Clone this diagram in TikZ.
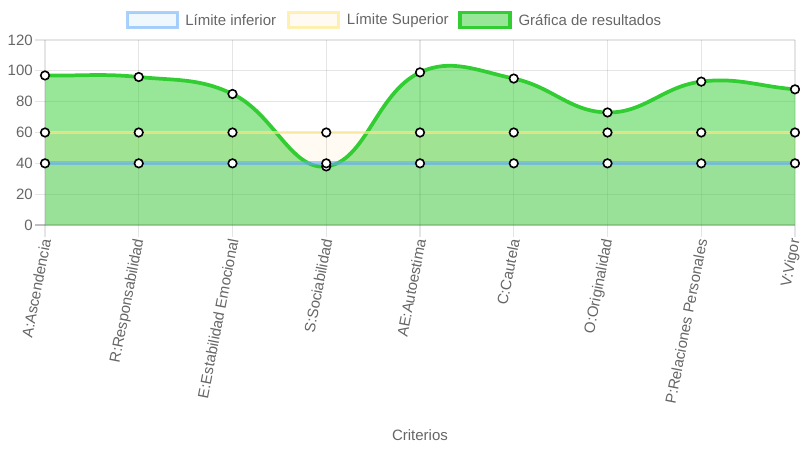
\documentclass[tikz,border=0pt]{standalone}
\usepackage{fontspec}
\setmainfont{Liberation Sans}
\begin{document}
\begin{tikzpicture}[x=0.75pt,y=-0.75pt,
  lbl/.style={text=txtgray,font=\fontsize{11.25}{13.5}\selectfont,inner sep=0pt},
  grid/.style={draw=black,draw opacity=0.1,line width=0.94pt},
  zeroline/.style={draw=black,draw opacity=0.25,line width=0.94pt},
  ptmark/.style={circle,draw=black,fill=white,line width=1.2pt,minimum size=6.4pt,inner sep=0pt},
  greenline/.style={draw=limeg,line width=2.8pt},
  yelline/.style={draw=yelL,draw opacity=0.7,line width=2.8pt},
  blueline/.style={draw=bluL,draw opacity=0.6,line width=2.8pt},
  xlab/.style={lbl,anchor=east,rotate=79}]
\definecolor{txtgray}{HTML}{666666}
\definecolor{limeg}{RGB}{50,205,50}
\definecolor{yel}{RGB}{255,206,86}
\definecolor{yelL}{RGB}{255,232,130}
\definecolor{blu}{RGB}{54,162,235}
\definecolor{bluL}{RGB}{100,170,250}
\useasboundingbox (0,0) rectangle (800,450);
% legend
\node[draw=bluL,draw opacity=0.55,fill=blu,fill opacity=0.08,line width=2.8pt,minimum width=37.5pt,minimum height=11.25pt,inner sep=0pt] (lb1) at (152.5,20) {};
\node[lbl,anchor=west] (lt1) at (185,20.5) {Límite inferior};
\node[draw=yelL,draw opacity=0.6,fill=yel,fill opacity=0.08,line width=2.8pt,minimum width=37.5pt,minimum height=11.25pt,inner sep=0pt] (lb2) at (313.5,20) {};
\node[lbl,anchor=west] (lt2) at (346.7,20.5) {Límite Superior};
\node[draw=limeg,fill=limeg,fill opacity=0.5,line width=2.8pt,minimum width=37.5pt,minimum height=11.25pt,inner sep=0pt] (lb3) at (485,20) {};
\node[lbl,anchor=west] (lt3) at (518.3,20.5) {Gráfica de resultados};
% grid
\foreach \v in {20,40,...,120} {
  \draw[grid] (35,{225-1.54167*\v}) -- (795,{225-1.54167*\v});
  \node[lbl,anchor=east] (yl\v) at (33,{225-1.54167*\v}) {\v};
}
\node[lbl,anchor=east] (yl0) at (33,225) {0};
\foreach \i in {0,...,8} {
  \draw[grid] ({45+93.75*\i},40) -- ({45+93.75*\i},237);
}
\draw[zeroline] (35,225) -- (795,225);
% data coordinates
\coordinate (g0) at (45,75.46);
\coordinate (g1) at (138.75,77.0);
\coordinate (g2) at (232.5,93.96);
\coordinate (g3) at (326.25,166.42);
\coordinate (g4) at (420,72.37);
\coordinate (g5) at (513.75,78.54);
\coordinate (g6) at (607.5,112.46);
\coordinate (g7) at (701.25,81.62);
\coordinate (g8) at (795,89.33);
\coordinate (b0) at (45,225);
\coordinate (b8) at (795,225);
\coordinate (y0) at (45,132.5);
\coordinate (y8) at (795,132.5);
\coordinate (l0) at (45,163.33);
\coordinate (l8) at (795,163.33);
\def\curve{(g0) .. controls (82.5,76.08) and (101.55,73.33) .. (g1)
  .. controls (176.55,80.73) and (199.07,78.02) .. (g2)
  .. controls (274.07,113.78) and (290.89,170.49) .. (g3)
  .. controls (365.89,161.86) and (376.07,92.96) .. (g4)
  .. controls (451.07,57.81) and (477.36,70.76) .. (g5)
  .. controls (552.36,86.79) and (569.81,111.84) .. (g6)
  .. controls (644.81,113.07) and (662.85,86.36) .. (g7)
  .. controls (737.85,77.10) and (757.5,86.25) .. (g8)}
% fills
\fill[limeg,fill opacity=0.5] (b0) -- \curve -- (b8) -- cycle;
\fill[yel,fill opacity=0.08] (y0) rectangle (b8);
\fill[blu,fill opacity=0.06] (l0) rectangle (b8);
% green dataset
\draw[greenline] \curve;
\foreach \i/\yy in {0/75.46,1/77.0,2/93.96,3/166.42,4/72.37,5/78.54,6/112.46,7/81.62,8/89.33}
  \node[ptmark] (gp\i) at ({45+93.75*\i},\yy) {};
% yellow dataset
\draw[yelline] (y0) -- (y8);
\foreach \i in {0,...,8}
  \node[ptmark] (yp\i) at ({45+93.75*\i},132.5) {};
% blue dataset
\draw[blueline] (l0) -- (l8);
\foreach \i in {0,...,8}
  \node[ptmark] (bp\i) at ({45+93.75*\i},163.33) {};
% x labels
\node[xlab] (x0) at (46,239) {A:Ascendencia};
\node[xlab] (x1) at (139.75,239) {R:Responsabilidad};
\node[xlab] (x2) at (233.5,239) {E:Estabilidad Emocional};
\node[xlab] (x3) at (327.25,239) {S:Sociabilidad};
\node[xlab] (x4) at (421,239) {AE:Autoestima};
\node[xlab] (x5) at (514.75,239) {C:Cautela};
\node[xlab] (x6) at (608.5,239) {O:Originalidad};
\node[xlab] (x7) at (702.25,239) {P:Relaciones Personales};
\node[xlab] (x8) at (796,239) {V:Vigor};
\node[lbl] (xt) at (420,435) {Criterios};
\end{tikzpicture}
\end{document}
